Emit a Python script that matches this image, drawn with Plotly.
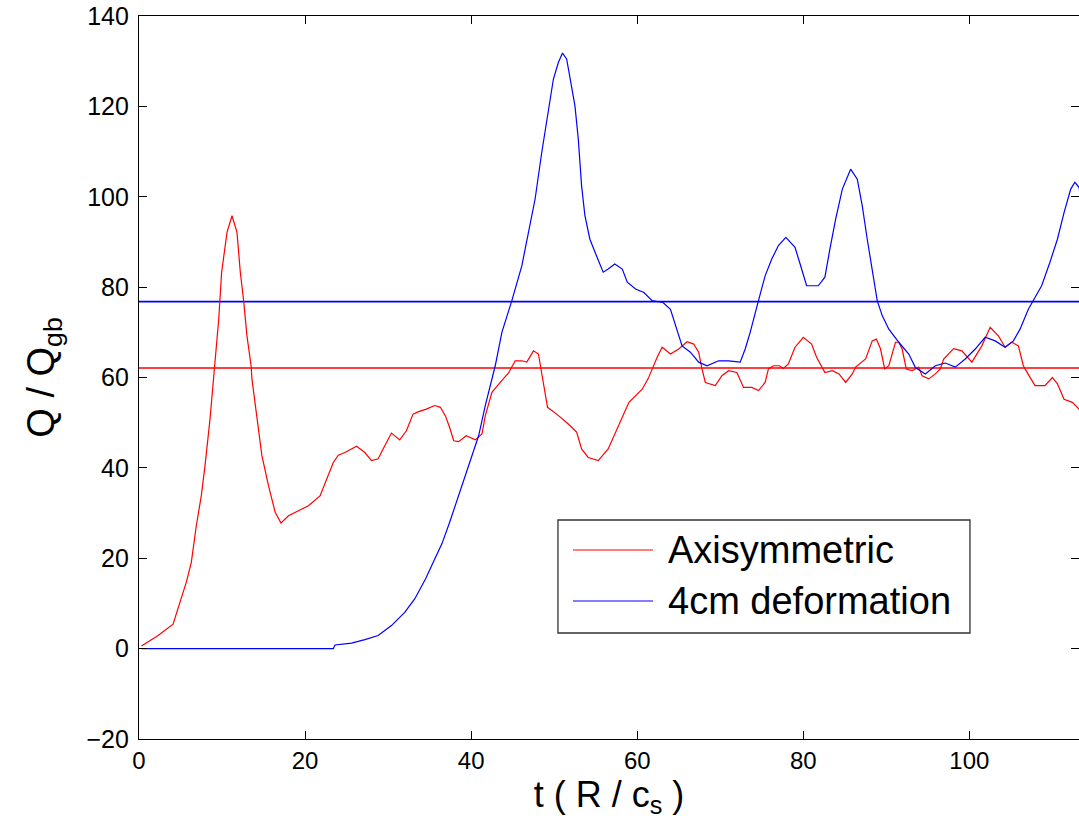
import plotly.graph_objects as go

# ---- data ----
t_axi = [0.3, 2.3, 4.1, 5.1, 5.7, 6.3, 6.9, 7.5, 7.95, 8.55, 8.95, 9.15, 9.6, 9.95, 10.6, 11.2, 11.8,
         12.2, 12.6, 13.0, 13.5, 13.6, 14.2, 14.8, 15.6, 16.4, 17.1, 18.0, 19.2, 20.4, 21.8, 22.6, 23.4,
         24.0, 24.8, 26.2, 27.2, 28.0, 28.8, 29.4, 30.4, 31.4, 32.2, 33.0, 33.6, 34.6, 35.6, 36.3, 36.9,
         37.4, 37.9, 38.5, 39.4, 40.5, 41.3, 41.7, 42.5, 43.5, 44.5, 45.3, 46.1, 46.7, 47.5, 48.1, 48.4,
         48.5, 49.2, 50.3, 51.7, 52.7, 53.3, 54.1, 55.3, 56.5, 57.3, 58.4, 59.0, 60.6, 61.3, 61.9, 62.4,
         63.0, 64.0, 65.0, 66.0, 66.8, 67.4, 67.8, 68.2, 69.4, 70.2, 71.0, 72.0, 72.8, 73.8, 74.6, 75.4,
         75.8, 76.4, 77.1, 77.6, 78.2, 79.0, 80.0, 81.0, 81.6, 82.2, 82.6, 83.5, 84.3, 85.1, 85.9, 86.3,
         87.5, 88.3, 88.8, 89.3, 89.8, 90.3, 91.1, 91.5, 91.9, 92.4, 93.1, 93.9, 94.3, 95.1, 95.9, 96.5,
         96.9, 98.1, 99.1, 100.3, 101.5, 102.5, 103.5, 104.3, 105.1, 105.9, 106.5, 106.7, 107.9, 109.1,
         110.0, 110.6, 111.4, 112.4, 113.4]
q_axi = [0.6, 2.9, 5.4, 11.0, 14.7, 19.1, 27.2, 33.8, 40.5, 50.8, 59.7, 62.6, 72.9, 83.3, 92.1, 95.8, 92.1,
         83.3, 77.0, 69.2, 62.6, 59.7, 50.8, 42.7, 36.0, 30.2, 27.8, 29.4, 30.5, 31.6, 33.8, 37.5, 41.2,
         42.8, 43.4, 44.8, 43.4, 41.6, 42.0, 44.2, 47.7, 46.2, 48.2, 51.9, 52.4, 53.0, 53.8, 53.4, 51.5,
         49.0, 46.0, 45.8, 47.1, 46.2, 47.5, 51.5, 56.7, 58.9, 61.0, 63.7, 63.7, 63.4, 65.9, 65.2, 61.9,
         60.4, 53.4, 51.9, 49.7, 47.9, 44.2, 42.3, 41.6, 44.2, 47.5, 52.3, 54.5, 57.4, 59.7, 62.3, 64.5,
         66.7, 65.2, 66.3, 67.9, 67.4, 65.6, 61.9, 58.9, 58.2, 60.4, 61.5, 61.1, 57.8, 57.8, 57.1, 58.9,
         61.9, 62.6, 62.6, 62.0, 63.0, 66.7, 68.9, 67.4, 64.5, 62.3, 61.1, 61.5, 60.8, 58.9, 60.8, 62.3,
         64.1, 68.1, 68.5, 66.3, 61.9, 62.6, 67.8, 67.8, 66.3, 61.9, 61.5, 62.3, 60.4, 59.7, 60.8, 61.9,
         64.1, 66.4, 65.9, 63.4, 67.0, 71.1, 69.2, 66.7, 67.8, 67.0, 62.6, 61.9, 58.2, 58.2,
         60.0, 58.6, 55.2, 54.5, 52.6]

t_def = [0.3, 23.4, 23.6, 25.6, 27.2, 28.8, 30.4, 32.0, 33.2, 34.5, 35.6, 36.5, 37.4, 38.5, 39.3, 40.1,
         40.9, 41.7, 42.5, 42.9, 43.7, 44.9, 46.1, 46.9, 47.7, 48.5, 49.3, 49.9, 50.5, 51.0, 51.5, 51.9,
         52.5, 52.9, 53.3, 53.7, 54.3, 55.1, 55.9, 56.5, 57.3, 58.2, 58.8, 59.8, 60.8, 61.8, 63.1, 64.0,
         64.6, 65.4, 66.4, 67.4, 68.4, 69.8, 71.0, 72.4, 73.0, 73.6, 74.6, 75.4, 76.2, 77.0, 77.9, 79.0,
         79.8, 80.4, 81.8, 82.6, 83.2, 83.9, 84.7, 85.3, 85.7, 86.5, 87.1, 87.7, 88.3, 88.9, 89.5, 90.3,
         91.5, 92.7, 93.5, 94.7, 95.9, 97.1, 98.3, 99.5, 100.7, 101.9, 103.1, 104.3, 105.3, 106.1, 107.1,
         107.7, 108.7, 109.7, 110.6, 111.4, 112.2, 112.7, 113.2, 113.5]
q_def = [0.0, 0.0, 0.8, 1.2, 2.0, 2.9, 5.1, 8.0, 11.0, 15.4, 19.8, 23.3, 27.9, 33.8, 38.3, 42.7,
         47.1, 53.8, 59.7, 62.6, 70.0, 77.0, 84.7, 92.1, 99.5, 109.8, 119.4, 126.0, 129.7, 131.8, 130.5, 126.0,
         120.1, 112.8, 102.4, 95.8, 90.6, 86.9, 83.3, 84.0, 85.1, 84.0, 81.1, 79.6, 78.8, 77.0, 76.6, 75.1,
         71.5, 67.0, 65.6, 63.4, 62.6, 63.7, 63.7, 63.4, 66.3, 70.0, 77.0, 82.5, 86.2, 89.2, 91.0, 88.8,
         84.0, 80.3, 80.3, 82.2, 88.4, 95.1, 101.7, 104.6, 106.1, 103.9, 98.0, 90.6, 84.0, 77.0, 73.7, 70.7,
         67.8, 65.2, 62.2, 60.8, 62.6, 63.2, 62.3, 64.1, 66.3, 68.9, 68.1, 66.7, 68.1, 70.7, 75.1,
         77.0, 80.3, 85.5, 90.6, 96.5, 101.7, 103.2, 102.1, 98.8]

mean_axi = 62.1
mean_def = 76.8

series_names = ["Axisymmetric", "4cm deformation"]
series_colors = ["#ff0000", "#0000ff"]

x_ticks = [0, 20, 40, 60, 80, 100]
y_ticks = [-20, 0, 20, 40, 60, 80, 100, 120, 140]
x_range = [0, 113.2]
y_range = [-20, 140]

FONT = "Liberation Sans, Arial, Helvetica, sans-serif"

fig = go.Figure()
t_lo, t_hi = x_range
fig.add_trace(go.Scatter(x=[t_lo, t_hi], y=[mean_axi, mean_axi], mode="lines",
                         line=dict(color=series_colors[0], width=1.6), showlegend=False, hoverinfo="skip"))
fig.add_trace(go.Scatter(x=[t_lo, t_hi], y=[mean_def, mean_def], mode="lines",
                         line=dict(color=series_colors[1], width=1.6), showlegend=False, hoverinfo="skip"))
fig.add_trace(go.Scatter(x=t_axi, y=q_axi, mode="lines", name=series_names[0],
                         line=dict(color=series_colors[0], width=1.2), showlegend=False))
fig.add_trace(go.Scatter(x=t_def, y=q_def, mode="lines", name=series_names[1],
                         line=dict(color=series_colors[1], width=1.2), showlegend=False))

# legend box drawn in paper coordinates (matches the MATLAB-style legend)
fig.add_shape(type="rect", xref="paper", yref="paper", x0=0.4457, x1=0.8840, y0=0.1466, y1=0.3029,
              line=dict(color="#333333", width=1.3), fillcolor="white", layer="above")
leg_y = [0.2614, 0.1909]
for name, col, ly in zip(series_names, series_colors, leg_y):
    fig.add_shape(type="line", xref="paper", yref="paper", x0=0.4617, x1=0.5468, y0=ly, y1=ly,
                  line=dict(color=col, width=1.2), layer="above")
    fig.add_annotation(xref="paper", yref="paper", x=0.5606, y=ly, text=name, showarrow=False,
                       xanchor="left", yanchor="middle", font=dict(family=FONT, size=38, color="black"))

axis_common = dict(showline=True, linecolor="black", linewidth=1.2, mirror="ticks",
                   ticks="inside", ticklen=8, tickwidth=1, tickcolor="black",
                   showgrid=False, zeroline=False)

fig.update_xaxes(range=x_range, tickvals=x_ticks, ticktext=[str(v) for v in x_ticks],
                 tickfont=dict(family=FONT, size=24, color="black"),
                 title=dict(text="t ( R / c<sub>s</sub> )", font=dict(family=FONT, size=36, color="black"),
                            standoff=8),
                 ticklabelstandoff=0, **axis_common)
fig.update_yaxes(range=y_range, tickvals=y_ticks,
                 ticktext=[("\u2212" + str(-v)) if v < 0 else str(v) for v in y_ticks],
                 tickfont=dict(family=FONT, size=25, color="black"),
                 title=dict(text="Q / Q<sub>gb</sub>", font=dict(family=FONT, size=38, color="black"),
                            standoff=20),
                 ticklabelstandoff=4, **axis_common)

fig.update_layout(width=1079, height=821, margin=dict(l=139, r=0, t=16, b=82),
                  paper_bgcolor="white", plot_bgcolor="white", showlegend=False,
                  font=dict(family=FONT, color="black"))

fig.write_html("out.html")
